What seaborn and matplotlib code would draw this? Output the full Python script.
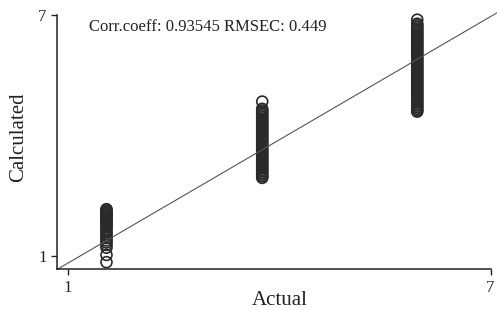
import numpy as np
import pandas as pd
import matplotlib
matplotlib.use('Agg')
import matplotlib.pyplot as plt
import seaborn as sns

# --- data ---
actual_levels = [1.55, 3.76, 5.96]
calc_low = [2.16, 2.13, 2.10, 2.07, 2.04, 2.01, 1.98, 1.95, 1.92, 1.89, 1.86, 1.83,
            1.80, 1.77, 1.74, 1.71, 1.66, 1.60, 1.55, 1.50, 1.44, 1.38, 1.33, 1.27,
            1.20, 1.02, 0.84]
calc_mid = [4.84, 4.66, 4.62, 4.58, 4.54, 4.50, 4.46, 4.42, 4.38, 4.34, 4.30, 4.26,
            4.22, 4.18, 4.14, 4.10, 4.06, 4.02, 3.98, 3.94, 3.90, 3.86, 3.82, 3.78,
            3.74, 3.70, 3.66, 3.62, 3.58, 3.54, 3.50, 3.46, 3.42, 3.38, 3.34, 3.30,
            3.26, 3.22, 3.18, 3.14, 3.10, 3.06, 3.02, 2.98, 2.94]
calc_high = [6.88, 6.78, 6.74, 6.70, 6.66, 6.62, 6.58, 6.54, 6.50, 6.46, 6.42, 6.38,
             6.34, 6.30, 6.26, 6.22, 6.18, 6.14, 6.10, 6.06, 6.02, 5.98, 5.94, 5.90,
             5.86, 5.82, 5.78, 5.74, 5.70, 5.66, 5.62, 5.58, 5.54, 5.50, 5.46, 5.42,
             5.38, 5.34, 5.30, 5.26, 5.22, 5.18, 5.14, 5.10, 5.06, 5.02, 4.98, 4.94,
             4.90, 4.86, 4.82, 4.78, 4.74, 4.70, 4.66, 4.62, 4.59]
fit_x = [0.85, 7.09]
fit_y = [0.66, 7.05]
stats_text = 'Corr.coeff: 0.93545 RMSEC: 0.449'

rows = []
for a, vals in zip(actual_levels, [calc_low, calc_mid, calc_high]):
    for v in vals:
        rows.append({'Actual': a, 'Calculated': v})
df = pd.DataFrame(rows)

sns.set_style('ticks')
plt.rcParams['font.family'] = ['Liberation Serif', 'DejaVu Serif']

fig = plt.figure(figsize=(4.97, 3.10), dpi=100)
ax = fig.add_axes([0.115, 0.131, 0.872, 0.821])

sns.scatterplot(data=df, x='Actual', y='Calculated', ax=ax, marker='o', s=62,
                facecolors='none', edgecolor='#2a2a2a', linewidth=1.2)
ax.collections[-1].set_clip_on(False)
sns.lineplot(x=fit_x, y=fit_y, ax=ax, color='#555555', linewidth=0.8)
ax.lines[-1].set_clip_on(False)

ax.set_xlim(0.85, 7)
ax.set_ylim(0.66, 7)
ax.set_xticks([1, 7])
ax.set_yticks([1, 7])
ax.tick_params(labelsize=12, length=4, width=1, color='#222222', labelcolor='#222222')
ax.set_xlabel('Actual', fontsize=15, color='#222222')
ax.set_ylabel('Calculated', fontsize=15, color='#222222')
ax.xaxis.set_label_coords(0.514, -0.085)
ax.yaxis.set_label_coords(-0.068, 0.52)
for s in ['left', 'bottom']:
    ax.spines[s].set_color('#222222')
    ax.spines[s].set_linewidth(1.1)
sns.despine(ax=ax)

ax.text(0.074, 0.985, stats_text, transform=ax.transAxes, fontsize=12,
        color='#222222', ha='left', va='top')

fig.savefig('out.png', dpi=100)
